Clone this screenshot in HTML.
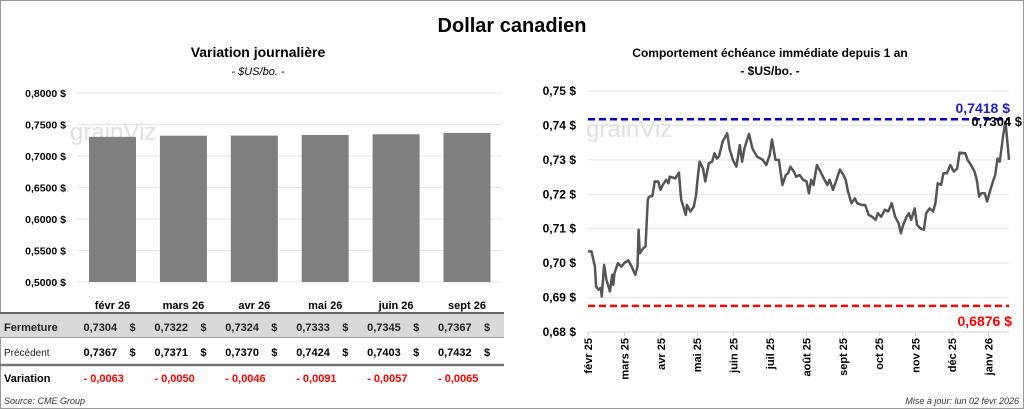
<!DOCTYPE html>
<html><head><meta charset="utf-8">
<style>
body{margin:0;background:#fff;}
#root{position:relative;width:1024px;height:409px;overflow:hidden;font-family:"Liberation Sans",sans-serif;}
svg text{font-family:"Liberation Sans",sans-serif;}
</style></head>
<body>
<div id="root">
<svg id="svg" width="1024" height="409" viewBox="0 0 1024 409">
<rect x="0.5" y="0.5" width="1023" height="408" fill="#fff" stroke="#999"/>
<text x="512" y="32" text-anchor="middle" font-size="20" font-weight="bold">Dollar canadien</text>
<text x="258" y="57" text-anchor="middle" font-size="14" font-weight="bold">Variation  journalière</text>
<text x="258" y="75" text-anchor="middle" font-size="11" font-style="italic">- $US/bo. -</text>
<text x="770" y="57" text-anchor="middle" font-size="12" font-weight="bold">Comportement échéance immédiate depuis 1 an</text>
<text x="770" y="75" text-anchor="middle" font-size="12" font-weight="bold">- $US/bo. -</text>
<g id="left"></g>
<g id="table"></g>
<g id="right"></g>
<text x="4" y="404" font-size="9" font-style="italic" fill="#333">Source: CME Group</text>
<text x="1019" y="404" text-anchor="end" font-size="9" font-style="italic" fill="#333">Mise à jour: lun 02 févr 2026</text>
</svg>
</div>
<script>
const NS="http://www.w3.org/2000/svg";
// Left bar chart data
const barCategories=["févr 26","mars 26","avr 26","mai 26","juin 26","sept 26"];
const closeValues=[0.7304,0.7322,0.7324,0.7333,0.7345,0.7367];
const prevValues=[0.7367,0.7371,0.7370,0.7424,0.7403,0.7432];
const variationValues=[-0.0063,-0.0050,-0.0046,-0.0091,-0.0057,-0.0065];
const leftTicks=[0.50,0.55,0.60,0.65,0.70,0.75,0.80];
// Right line chart data
const monthLabels=["févr 25","mars 25","avr 25","mai 25","juin 25","juil 25","août 25","sept 25","oct 25","nov 25","déc 25","janv 26"];
const rightTicks=[0.68,0.69,0.70,0.71,0.72,0.73,0.74,0.75];
const seriesDays=[0,3,6,7,9,11,12,14,16,19,21,22,23,26,29,32,35,38,41,43,44,45,48,50,52,53,56,58,61,63,65,68,70,71,76,79,81,82,85,86,89,92,94,95,97,100,102,105,108,110,112,114,117,121,123,126,129,132,134,136,140,143,147,150,152,155,158,160,163,166,169,172,174,176,179,181,184,187,190,192,194,196,199,202,205,208,210,213,216,219,222,224,226,229,232,234,238,241,244,247,250,252,255,258,261,264,267,270,272,274,277,279,281,284,286,289,292,294,297,300,302,304,307,309,312,315,318,321,323,328,330,333,336,338,340,342,345,347,349,352,354,356,358,361,363,365,366];
const seriesValues=[.7034,.7034,.6990,.6932,.6923,.6928,.6903,.6995,.6952,.6918,.6966,.6937,.6971,.7000,.6990,.7002,.7008,.6990,.6966,.6990,.7097,.7029,.7043,.7048,.7184,.7193,.7195,.7237,.7237,.7213,.7227,.7242,.7232,.7251,.7246,.7263,.7184,.7174,.7140,.7169,.7150,.7164,.7198,.7237,.7295,.7275,.7237,.7290,.7295,.7319,.7304,.7311,.7353,.7377,.7333,.7300,.7280,.7343,.7295,.7333,.7375,.7333,.7309,.7304,.7300,.7285,.7314,.7359,.7300,.7300,.7227,.7256,.7261,.7280,.7266,.7251,.7256,.7242,.7237,.7203,.7242,.7227,.7285,.7266,.7246,.7227,.7242,.7213,.7242,.7272,.7256,.7242,.7208,.7174,.7188,.7174,.7169,.7169,.7140,.7135,.7126,.7145,.7135,.7155,.7150,.7174,.7135,.7116,.7087,.7111,.7135,.7145,.7126,.7159,.7111,.7101,.7097,.7145,.7159,.7150,.7174,.7232,.7227,.7261,.7261,.7285,.7266,.7275,.7321,.7319,.7300,.7285,.7266,.7242,.7193,.7203,.7203,.7179,.7203,.7237,.7256,.7304,.7295,.7372,.7411,.7338,.7300];
const highValue=0.7418, lowValue=0.6876, lastValue=0.7304;

function el(tag,attrs,parent,txt){const e=document.createElementNS(NS,tag);for(const k in attrs)e.setAttribute(k,attrs[k]);if(txt!==undefined)e.textContent=txt;parent.appendChild(e);return e;}
const fmt=(v,d)=>v.toFixed(d).replace('.',',');

// Left chart
const L=document.getElementById('left');
const ly=v=>282-(v-0.50)/0.30*189;
const lx=i=>112.5+i*70.9;
leftTicks.forEach(t=>{
  const g=el('line',{x1:77,x2:502,y1:ly(t),y2:ly(t),stroke:'#e4e4e4'},L);
  
  
  const tx=el('text',{x:66,y:ly(t)+4,'text-anchor':'end','font-size':10.5,'font-weight':'bold'},L,fmt(t,4)+' $');
  
  
});
el('text',{x:70,y:140,'font-size':24,fill:'#e0e0e0'},L,'grainViz');
closeValues.forEach((v,i)=>{
  const r=el('rect',{x:lx(i)-23.5,y:ly(v),width:47,height:ly(0.5)-ly(v),fill:'#7f7f7f'},L);
  
  
});

// Table
const T=document.getElementById('table');
el('rect',{x:0,y:314,width:504,height:23,fill:'#d9d9d9'},T);
el('line',{x1:0,x2:504,y1:313,y2:313,stroke:'#666','stroke-width':2},T);
el('line',{x1:0,x2:504,y1:337.5,y2:337.5,stroke:'#999','stroke-width':1},T);
el('line',{x1:0,x2:504,y1:365,y2:365,stroke:'#777','stroke-width':2.5},T);
el('text',{x:4,y:331,'font-size':11,'font-weight':'bold',fill:'#222'},T,'Fermeture');
el('text',{x:4,y:356,'font-size':10,fill:'#222'},T,'Précédent');
el('text',{x:4,y:382,'font-size':11,'font-weight':'bold'},T,'Variation');
barCategories.forEach((c,i)=>{
  const h=el('text',{x:lx(i),y:309,'text-anchor':'middle','font-size':11,'font-weight':'bold'},T,c);
  
  
  const a=el('text',{x:lx(i)-29,y:331,'font-size':11,'font-weight':'bold',fill:'#222'},T,fmt(closeValues[i],4));
  
  
  const a2=el('text',{x:lx(i)+17,y:331,'font-size':11,'font-weight':'bold',fill:'#222'},T,'$');
  
  
  const b=el('text',{x:lx(i)-29,y:356,'font-size':11,'font-weight':'bold'},T,fmt(prevValues[i],4));
  
  
  const b2=el('text',{x:lx(i)+17,y:356,'font-size':11,'font-weight':'bold'},T,'$');
  
  
  const d=el('text',{x:lx(i)-29,y:382,'font-size':11,'font-weight':'bold',fill:'#ff0000'},T,'- '+fmt(Math.abs(variationValues[i]),4));
  
  
});

// Right chart
const R=document.getElementById('right');
const ry=v=>332-(v-0.68)/0.07*241;
const rx=d=>588+d*421/366;
const mx=i=>588+i*36.4;
rightTicks.forEach(t=>{
  const g=el('line',{x1:588,x2:1009,y1:ry(t),y2:ry(t),stroke:'#e4e4e4'},R);
  
  
  const tx=el('text',{x:576,y:ry(t)+4,'text-anchor':'end','font-size':12,'font-weight':'bold'},R,fmt(t,2)+' $');
  
  
});
el('line',{x1:588,x2:1009,y1:332,y2:332,stroke:'#d0d0d0'},R);
el('text',{x:586,y:137,'font-size':24,fill:'#e0e0e0'},R,'grainViz');
monthLabels.forEach((m,i)=>{
  el('line',{x1:mx(i),x2:mx(i),y1:332,y2:336,stroke:'#d0d0d0'},R);
  const t=el('text',{x:0,y:0,'text-anchor':'end','font-size':11,'font-weight':'bold',transform:`translate(${mx(i)+4},338) rotate(-90)`},R,m);
  
  
});
const hl=el('line',{x1:588,x2:1009,y1:ry(highValue),y2:ry(highValue),stroke:'#0000c0','stroke-width':2.5,'stroke-dasharray':'7,4'},R);


const ll=el('line',{x1:588,x2:1009,y1:ry(lowValue),y2:ry(lowValue),stroke:'#ff0000','stroke-width':2.5,'stroke-dasharray':'7,4'},R);


let d='';seriesDays.forEach((x,i)=>{d+=(i?'L':'M')+rx(x).toFixed(1)+','+ry(seriesValues[i]).toFixed(1);});
const p=el('path',{d:d,fill:'none',stroke:'#555','stroke-width':2.5,'stroke-linejoin':'round'},R);


const t1=el('text',{x:1010,y:ry(highValue)-6,'text-anchor':'end','font-size':14,'font-weight':'bold',fill:'#1f1fc8'},R,fmt(highValue,4)+' $');


const t2=el('text',{x:1012,y:ry(lowValue)+20,'text-anchor':'end','font-size':14,'font-weight':'bold',fill:'#ff0000'},R,fmt(lowValue,4)+' $');


const t3=el('text',{x:1022,y:126,'text-anchor':'end','font-size':13,'font-weight':'bold',fill:'#000'},R,fmt(lastValue,4)+' $');


</script>
</body></html>
